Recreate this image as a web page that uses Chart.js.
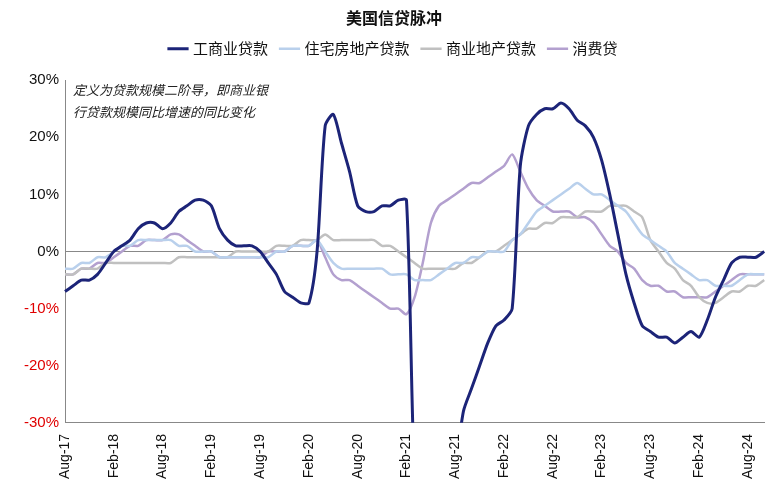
<!DOCTYPE html>
<html>
<head>
<meta charset="utf-8">
<script src="https://cdn.jsdelivr.net/npm/chart.js@4"></script>
<style>
  body { margin: 0; background: #fff; }
  #wrap { width: 784px; height: 500px; }
</style>
</head>
<body>
<div id="wrap"><canvas id="pulseChart"></canvas></div>
<script>
// monthly, Aug-17 .. Oct-24
const months = ["Jan", "Feb", "Mar", "Apr", "May", "Jun", "Jul", "Aug", "Sep", "Oct", "Nov", "Dec"];
const labels = [];
for (let i = 0; i < 87; i++) {
  const m = (7 + i) % 12;
  const y = 17 + Math.floor((7 + i) / 12);
  labels.push(months[m] + "-" + y);
}

const ciLoans = [-7, -6, -5, -5, -4, -2, 0, 1, 2, 4, 5, 5, 4, 5, 7, 8, 9, 9, 8, 4, 2, 1, 1, 1,
  0, -2, -4, -7, -8, -9, -9, 0, 22, 24, 19, 14, 8, 7, 7, 8, 8, 9, 9, -40, -50, -52, -50, -45,
  -38, -28, -24, -20, -16, -13, -12, -10, 15, 22, 24, 25, 25, 26, 25, 23, 22, 20, 16, 10, 3, -4, -9, -13,
  -14, -15, -15, -16, -15, -14, -15, -12, -8, -5, -2, -1, -1, -1, 0];
const residential = [-3, -3, -2, -2, -1, -1, 0, 1, 1, 2, 2, 2, 2, 2, 1, 1, 0, 0, 0, -1, -1, -1, -1, -1,
  -1, -1, 0, 0, 1, 1, 1, 2, 0, -2, -3, -3, -3, -3, -3, -3, -4, -4, -4, -5, -5, -5, -4, -3,
  -2, -2, -1, -1, 0, 0, 0, 2, 3, 5, 7, 8, 9, 10, 11, 12, 11, 10, 10, 9, 8, 7, 5, 3,
  2, 1, 0, -2, -3, -4, -5, -5, -6, -6, -6, -5, -4, -4, -4];
const commercialRE = [-4, -4, -3, -3, -3, -2, -2, -2, -2, -2, -2, -2, -2, -2, -1, -1, -1, -1, -1, -1, -1, 0, 0, 0,
  0, 0, 1, 1, 1, 2, 2, 2, 3, 2, 2, 2, 2, 2, 2, 1, 1, 0, -1, -2, -3, -3, -3, -3,
  -3, -2, -2, -1, 0, 0, 1, 2, 3, 4, 4, 5, 5, 6, 6, 6, 7, 7, 7, 8, 8, 8, 7, 6,
  2, 0, -2, -3, -5, -6, -8, -9, -9, -8, -7, -7, -6, -6, -5];
const consumer = [-4, -4, -3, -3, -2, -2, -1, 0, 1, 1, 2, 2, 2, 3, 3, 2, 1, 0, 0, -1, -1, -1, -1, -1,
  -1, 0, 0, 0, 1, 1, 1, 2, -1, -4, -5, -5, -6, -7, -8, -9, -10, -10, -11, -8, -2, 5, 8, 9,
  10, 11, 12, 12, 13, 14, 15, 17, 14, 11, 9, 8, 7, 7, 7, 6, 6, 5, 3, 1, 0, -2, -3, -5,
  -6, -6, -7, -7, -8, -8, -8, -8, -7, -6, -5, -4, -4, -4, -4];

const notePlugin = {
  id: "note",
  afterDraw(chart) {
    const c = chart.ctx;
    const a = chart.chartArea;
    c.save();
    c.font = "italic 13px 'Noto Sans CJK SC'";
    c.fillStyle = "#222";
    c.textBaseline = "middle";
    c.fillText("定义为贷款规模二阶导，即商业银", a.left + 8, 90);
    c.fillText("行贷款规模同比增速的同比变化", a.left + 8, 112);
    c.restore();
  }
};

// push the plot area down a little below the legend
const legendGap = {
  id: "legendGap",
  beforeInit(chart) {
    const fit = chart.legend.fit;
    chart.legend.fit = function () {
      fit.bind(chart.legend)();
      this.height += 14;
    };
  }
};

const ctx = document.getElementById("pulseChart").getContext("2d");
new Chart(ctx, {
  type: "line",
  data: {
    labels: labels,
    datasets: [
      { label: "工商业贷款", data: ciLoans, borderColor: "#1c2478", borderWidth: 3 },
      { label: "住宅房地产贷款", data: residential, borderColor: "#b9d0ec", borderWidth: 2.5 },
      { label: "商业地产贷款", data: commercialRE, borderColor: "#c0c0c0", borderWidth: 2.5 },
      { label: "消费贷", data: consumer, borderColor: "#b3a0cf", borderWidth: 2.5 },
    ],
  },
  options: {
    responsive: true,
    maintainAspectRatio: false,
    animation: false,
    elements: { point: { radius: 0 }, line: { tension: 0.25 } },
    layout: { padding: { left: 18, right: 14, top: 0, bottom: 18 } },
    plugins: {
      title: {
        display: true,
        text: "美国信贷脉冲",
        color: "#111",
        font: { family: "'Noto Sans CJK SC'", size: 16, weight: "bold" },
        padding: { top: 8, bottom: 0 },
      },
      legend: {
        labels: {
          usePointStyle: true,
          pointStyle: "line",
          boxWidth: 30,
          color: "#111",
          font: { family: "'Noto Sans CJK SC'", size: 15 },
          padding: 14,
        },
      },
      tooltip: { enabled: false },
    },
    scales: {
      x: {
        grid: { display: false },
        border: { color: "#888" },
        ticks: {
          autoSkip: false,
          maxRotation: 90,
          minRotation: 90,
          color: "#111",
          font: { family: "Liberation Sans", size: 14 },
          callback: function (v, i) { return i % 6 === 0 ? labels[i] : ""; },
        },
      },
      y: {
        min: -30,
        max: 30,
        border: { color: "#888" },
        grid: {
          drawTicks: false,
          color: (c) => (c.tick.value === 0 ? "#888" : "rgba(0,0,0,0)"),
        },
        ticks: {
          stepSize: 10,
          padding: 6,
          font: { family: "Liberation Sans", size: 15 },
          color: (c) => (c.tick.value < 0 ? "#e00000" : "#111"),
          callback: (v) => v + "%",
        },
      },
    },
  },
  plugins: [notePlugin, legendGap],
});
</script>
</body>
</html>
